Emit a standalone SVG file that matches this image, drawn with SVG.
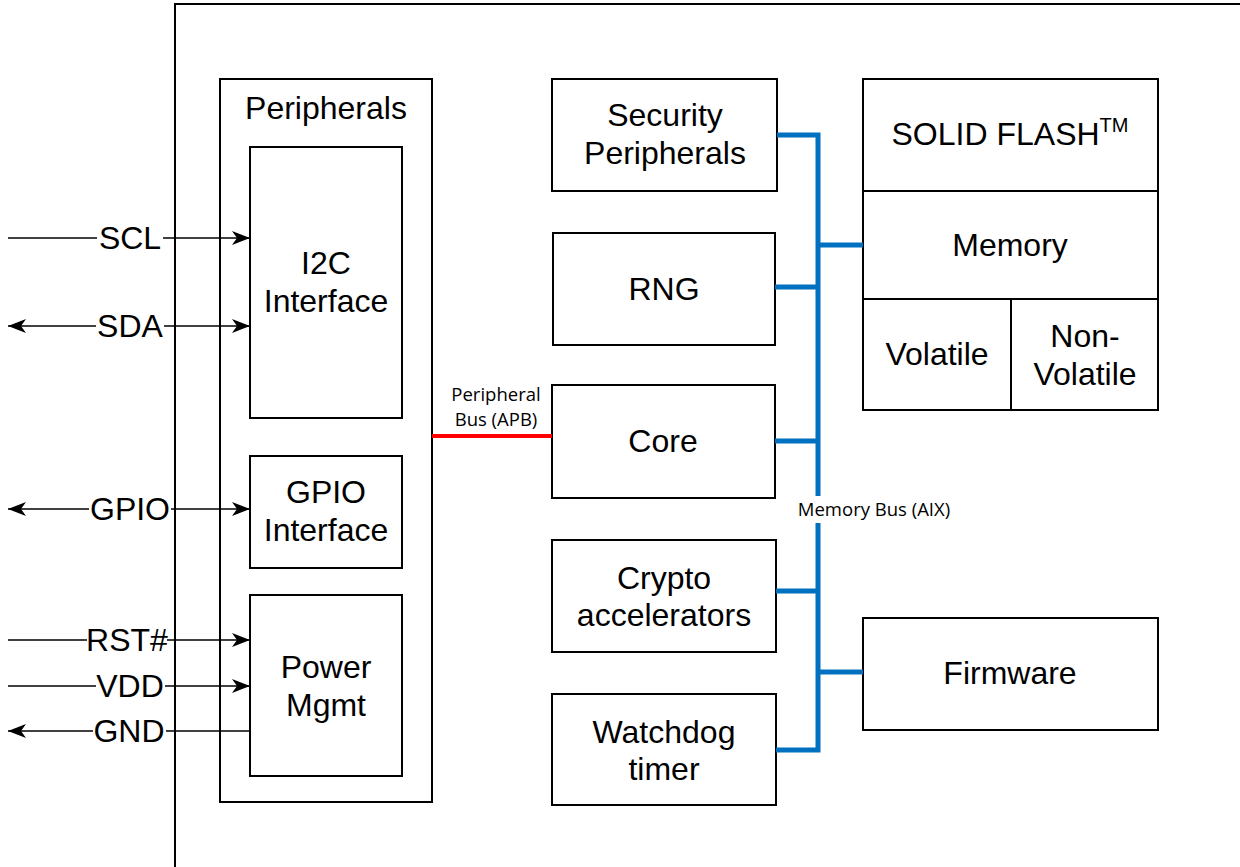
<svg xmlns="http://www.w3.org/2000/svg" width="1240" height="867" viewBox="0 0 1240 867">
<style>
.box{fill:#fff;stroke:#000;stroke-width:2}
.t{font-family:"Liberation Sans",Arial,sans-serif;font-size:32px;fill:#000;text-anchor:middle}
.s{font-family:"Open Sans","Liberation Sans",sans-serif;font-size:18.5px;fill:#000;text-anchor:middle}
.sig{stroke:#000;stroke-width:1.5;fill:none}
.bus{stroke:#0070C0;stroke-width:5;fill:none}
.bg{fill:#fff}
</style>
<defs>
<marker id="ah" viewBox="0 0 18 14" refX="18" refY="7" markerWidth="18" markerHeight="14" markerUnits="userSpaceOnUse" orient="auto-start-reverse">
<path d="M0,0 L18,7 L0,14 L5,7 Z" fill="#000"/>
</marker>
</defs>
<rect width="1240" height="867" fill="#fff"/>
<g id="frame"><path d="M175,870 V4 H1245" fill="none" stroke="#000" stroke-width="2"/></g>

<g id="peripherals">
<rect class="box" x="220" y="79" width="212" height="723"/>
<text class="t" x="326" y="119">Peripherals</text>
</g>
<g id="i2c">
<rect class="box" x="250" y="147" width="152" height="271"/>
<text class="t" x="326" y="274">I2C</text>
<text class="t" x="326" y="312">Interface</text>
</g>
<g id="gpio">
<rect class="box" x="250" y="456" width="152" height="112"/>
<text class="t" x="326" y="503">GPIO</text>
<text class="t" x="326" y="541">Interface</text>
</g>
<g id="power">
<rect class="box" x="250" y="595" width="152" height="181"/>
<text class="t" x="326" y="678">Power</text>
<text class="t" x="326" y="716">Mgmt</text>
</g>

<g id="security">
<rect class="box" x="552" y="79" width="225" height="112"/>
<text class="t" x="665" y="126">Security</text>
<text class="t" x="665" y="164">Peripherals</text>
</g>
<g id="rng">
<rect class="box" x="553" y="233" width="222" height="112"/>
<text class="t" x="664" y="300">RNG</text>
</g>
<g id="core">
<rect class="box" x="552" y="385" width="223" height="113"/>
<text class="t" x="663" y="452">Core</text>
</g>
<g id="crypto">
<rect class="box" x="552" y="540" width="224" height="112"/>
<text class="t" x="664" y="589">Crypto</text>
<text class="t" x="664" y="626">accelerators</text>
</g>
<g id="watchdog">
<rect class="box" x="552" y="694" width="224" height="111"/>
<text class="t" x="664" y="743">Watchdog</text>
<text class="t" x="664" y="780">timer</text>
</g>

<g id="memory">
<rect class="box" x="863" y="79" width="295" height="331"/>
<line x1="863" y1="191" x2="1158" y2="191" stroke="#000" stroke-width="2"/>
<line x1="863" y1="299" x2="1158" y2="299" stroke="#000" stroke-width="2"/>
<line x1="1011" y1="299" x2="1011" y2="410" stroke="#000" stroke-width="2"/>
<text class="t" x="1010" y="145">SOLID FLASH<tspan font-size="20" dy="-13">TM</tspan></text>
<text class="t" x="1010" y="256">Memory</text>
<text class="t" x="937" y="365">Volatile</text>
<text class="t" x="1085" y="347">Non-</text>
<text class="t" x="1085" y="385">Volatile</text>
</g>

<g id="firmware">
<rect class="box" x="863" y="618" width="295" height="112"/>
<text class="t" x="1010" y="684">Firmware</text>
</g>

<g id="connectors">
<line class="sig" x1="8" y1="238" x2="250" y2="238" marker-end="url(#ah)"/>
<line class="sig" x1="8" y1="326" x2="250" y2="326" marker-start="url(#ah)" marker-end="url(#ah)"/>
<line class="sig" x1="8" y1="509" x2="250" y2="509" marker-start="url(#ah)" marker-end="url(#ah)"/>
<line class="sig" x1="8" y1="640" x2="250" y2="640" marker-end="url(#ah)"/>
<line class="sig" x1="8" y1="686" x2="250" y2="686" marker-end="url(#ah)"/>
<line class="sig" x1="8" y1="731" x2="250" y2="731" marker-start="url(#ah)"/>
<line x1="432" y1="436" x2="552" y2="436" stroke="#FF0000" stroke-width="4"/>
<path class="bus" d="M777,135 H818 V496 M818,523 V750 H776"/>
<path class="bus" d="M775,287 H818 M775,441 H818 M776,591 H818 M818,245 H863 M818,672 H863"/>
</g>

<g id="signal-labels">
<rect class="bg" x="97" y="220" width="66" height="34"/>
<text class="t" x="130" y="249">SCL</text>
<rect class="bg" x="96" y="308" width="68" height="34"/>
<text class="t" x="130" y="337">SDA</text>
<rect class="bg" x="89" y="491" width="82" height="34"/>
<text class="t" x="130" y="520">GPIO</text>
<rect class="bg" x="87" y="622" width="80" height="34"/>
<text class="t" x="127" y="651">RST#</text>
<rect class="bg" x="96" y="668" width="69" height="34"/>
<text class="t" x="130" y="697">VDD</text>
<rect class="bg" x="93" y="713" width="73" height="34"/>
<text class="t" x="129" y="742">GND</text>
</g>

<g id="bus-labels">
<text class="s" x="496" y="401">Peripheral</text>
<text class="s" x="496" y="426">Bus (APB)</text>
<text class="s" x="874" y="516">Memory Bus (AIX)</text>
</g>
</svg>
